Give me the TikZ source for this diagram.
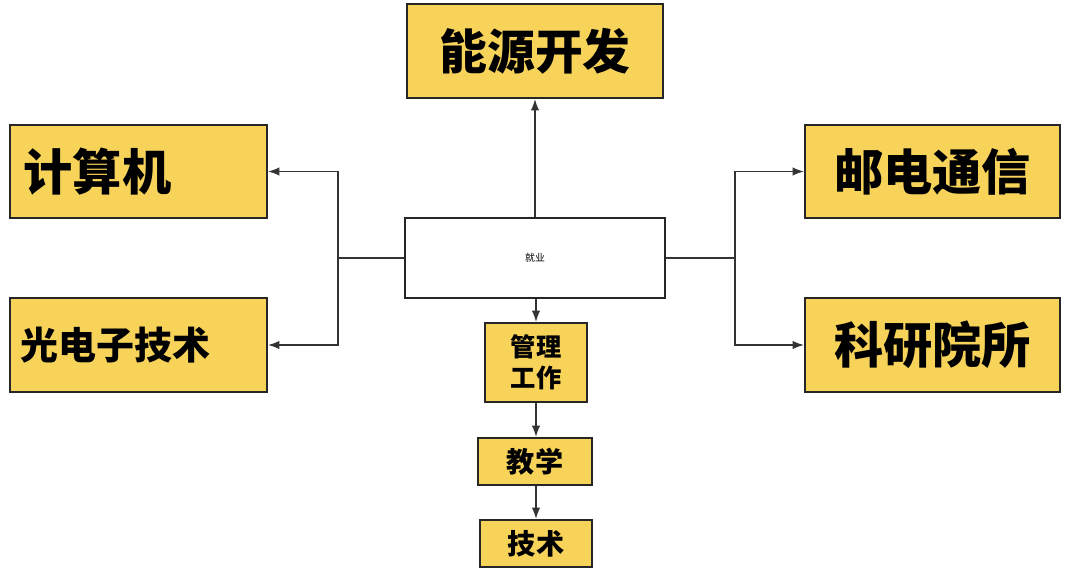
\documentclass[tikz,border=0pt]{standalone}
\usepackage{fontspec}
\newfontfamily\cjk{Noto Sans CJK SC}
\usetikzlibrary{arrows.meta}
\definecolor{boxy}{HTML}{F7D35A}
\begin{document}
\begin{tikzpicture}[x=0.025cm,y=-0.025cm,
  ybox/.style={draw=black!85,line width=1.6pt,fill=boxy,inner sep=0pt},
  conn/.style={draw=black!80,line width=0.9pt,-{Latex[length=8pt,width=6pt]}},
  line/.style={draw=black!80,line width=0.9pt}]
\useasboundingbox (0,0) rectangle (1080,585);
\path[fill=white] (0,0) rectangle (1080,585);
\node[ybox,minimum width=256*0.025cm,minimum height=94*0.025cm] (ny) at (535,51) {\cjk\bfseries\fontsize{34}{34}\selectfont 能源开发};
\node[ybox,minimum width=257*0.025cm,minimum height=93*0.025cm] (js) at (138.5,171.5) {};
\node[anchor=west,xshift=7pt] at (js.west) {\cjk\bfseries\fontsize{35}{35}\selectfont 计算机};
\node[ybox,minimum width=257*0.025cm,minimum height=94*0.025cm] (gd) at (138.5,345) {};
\node[anchor=west,xshift=5pt] at (gd.west) {\cjk\bfseries\fontsize{27}{27}\selectfont 光电子技术};
\node[ybox,minimum width=255*0.025cm,minimum height=93*0.025cm] (yd) at (932.5,171.5) {\cjk\bfseries\fontsize{35}{35}\selectfont 邮电通信};
\node[ybox,minimum width=255*0.025cm,minimum height=94*0.025cm] (ky) at (932.5,345) {\cjk\bfseries\fontsize{35}{35}\selectfont 科研院所};
\node[draw=black!85,line width=1.6pt,fill=white,minimum width=260*0.025cm,minimum height=80*0.025cm,inner sep=0pt] (jy) at (535,258) {\cjk\fontsize{7}{7}\selectfont 就业};
\node[ybox,minimum width=102*0.025cm,minimum height=79*0.025cm,align=center,font=\cjk\bfseries\fontsize{18}{22}\selectfont] (gl) at (536,362.5) {管理\\工作};
\node[ybox,minimum width=114*0.025cm,minimum height=47*0.025cm] (jx) at (535,461.5) {\cjk\bfseries\fontsize{20}{20}\selectfont 教学};
\node[ybox,minimum width=112*0.025cm,minimum height=47*0.025cm] (jsh) at (536,543.5) {\cjk\bfseries\fontsize{20}{20}\selectfont 技术};
\draw[conn] (jy.north) -- (ny.south);
\coordinate (L) at (338,258);
\coordinate (R) at (735,258);
\draw[line] (jy.west) -- (L);
\draw[conn] (L) |- (js.east);
\draw[conn] (L) |- (gd.east);
\draw[line] (jy.east) -- (R);
\draw[conn] (R) |- (yd.west);
\draw[conn] (R) |- (ky.west);
\draw[conn] (jy.south -| gl.north) -- (gl.north);
\draw[conn] (gl.south) -- (gl.south |- jx.north);
\draw[conn] (jx.south -| jsh.north) -- (jsh.north);
\end{tikzpicture}
\end{document}
